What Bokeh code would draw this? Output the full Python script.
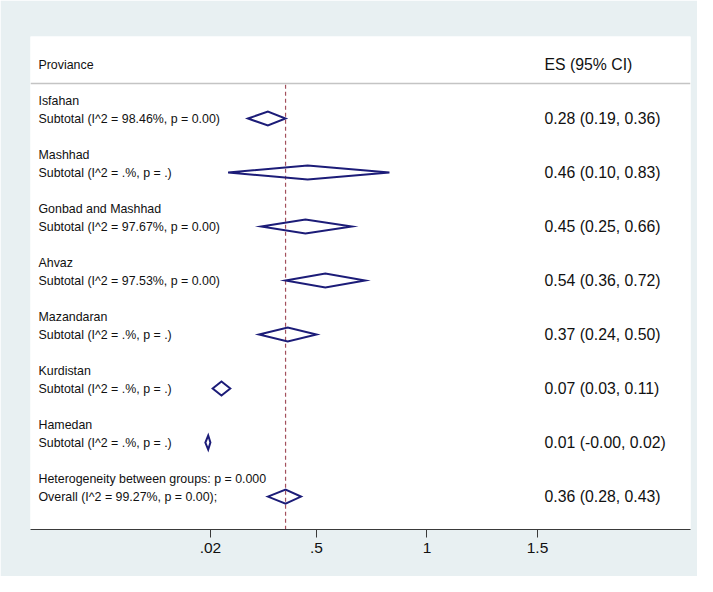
from bokeh.plotting import figure
from bokeh.models import Range1d, FixedTicker, CustomJSTickFormatter, Span, ColumnDataSource
from bokeh.core.properties import value
from bokeh.embed import file_html
from bokeh.resources import INLINE

# ---- data ----
provinces = ["Isfahan", "Mashhad", "Gonbad and Mashhad", "Ahvaz",
             "Mazandaran", "Kurdistan", "Hamedan"]
i2_labels = ["98.46%", ".%", "97.67%", "97.53%", ".%", ".%", ".%"]
p_labels = ["0.00", ".", "0.00", "0.00", ".", ".", "."]
es = [0.28, 0.46, 0.45, 0.54, 0.37, 0.07, 0.01]
lo = [0.19, 0.10, 0.25, 0.36, 0.24, 0.03, -0.003]
hi = [0.36, 0.83, 0.66, 0.72, 0.50, 0.11, 0.02]
overall_es = 0.36
overall_lo = 0.28
overall_hi = 0.43
overall_i2 = "99.27%"
overall_p = "0.00"
het_p = "0.000"
tick_values = [0.02, 0.5, 1, 1.5]
header_left = "Proviance"
header_right = "ES (95% CI)"

# ---- layout helpers ----
FONT = value("Liberation Sans")
NAVY = "#1c1c78"
half_h = 0.39  # diamond half-height in row units

x_lo, x_hi = -0.7941, 2.1923
y_top, y_bot = -2.556, 24.83
col_left = -0.758
col_es = 1.532

p = figure(width=697, height=576, output_backend="svg", toolbar_location=None,
           x_range=Range1d(x_lo, x_hi), y_range=Range1d(y_bot, y_top),
           y_axis_location=None, min_border_left=30, min_border_right=7,
           min_border_top=36, min_border_bottom=47)
p.border_fill_color = "#e8f0f2"
p.background_fill_color = "white"
p.outline_line_color = None
p.xgrid.visible = False
p.ygrid.visible = False

# rows
name_rows, sub_rows, sub_text, es_text = [], [], [], []
for i in range(len(provinces)):
    name_rows.append(3 * i + 1)
    sub_rows.append(3 * i + 2)
    sub_text.append(f"Subtotal  (I^2 = {i2_labels[i]}, p = {p_labels[i]})")
    es_text.append(f"{es[i]:.2f} ({lo[i]:.2f}, {hi[i]:.2f})")
het_row = 3 * len(provinces) + 1
overall_row = het_row + 1

# header line
p.add_layout(Span(location=0.05, dimension="width", line_color="#c4c4c4", line_width=1.5))

# reference dashed line
p.segment(x0=[overall_es], y0=[0.12], x1=[overall_es], y1=[y_bot],
          line_color="#a3505c", line_width=1.2, line_dash="4 3")

# diamonds
all_es = es + [overall_es]
all_lo = lo + [overall_lo]
all_hi = hi + [overall_hi]
all_rows = sub_rows + [overall_row]
xs = [[l, e, h, e, l] for l, e, h in zip(all_lo, all_es, all_hi)]
ys = [[r, r - half_h, r, r + half_h, r] for r in all_rows]
p.patches(xs=xs, ys=ys, fill_color=None, line_color=NAVY, line_width=2, line_join="miter")

# left column texts
left_txt = [header_left] + provinces + sub_text + [
    f"Heterogeneity between groups: p = {het_p}",
    f"Overall  (I^2 = {overall_i2}, p = {overall_p});"]
left_rows = [-1] + name_rows + sub_rows + [het_row, overall_row]
src_l = ColumnDataSource(dict(x=[col_left] * len(left_txt), y=left_rows, t=left_txt))
p.text(x="x", y="y", text="t", source=src_l, text_font=FONT, text_font_size="12.4px",
       text_baseline="middle", text_align="left", text_color="#111111")

# ES column
es_all_txt = [header_right] + es_text + [f"{overall_es:.2f} ({overall_lo:.2f}, {overall_hi:.2f})"]
es_rows = [-1] + all_rows
src_r = ColumnDataSource(dict(x=[col_es] * len(es_all_txt), y=es_rows, t=es_all_txt))
p.text(x="x", y="y", text="t", source=src_r, text_font=FONT, text_font_size="15.8px",
       text_baseline="middle", text_align="left", text_color="#111111")

# x axis
ax = p.xaxis[0]
ax.ticker = FixedTicker(ticks=tick_values)
ax.formatter = CustomJSTickFormatter(code="""
    var s = String(tick);
    if (s.startsWith('0.')) { s = s.slice(1); }
    return s;
""")
ax.axis_line_color = "#3a3a3a"
ax.axis_line_width = 1.2
ax.major_tick_line_color = "#3a3a3a"
ax.major_tick_out = 8
ax.major_tick_in = 0
ax.minor_tick_out = 0
ax.minor_tick_in = 0
ax.major_label_text_font = "Liberation Sans"
ax.major_label_text_font_size = "15.5px"
ax.major_label_text_color = "#111111"
ax.major_label_standoff = 5

open("out.html", "w").write(file_html(p, INLINE))
